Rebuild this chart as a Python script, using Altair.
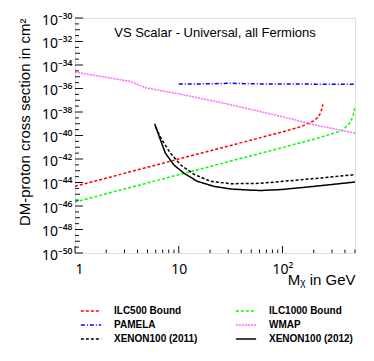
import altair as alt
import pandas as pd
import math

# ---- data (mass in GeV, cross section in cm^2) ----
series_names = ["ILC500 Bound", "ILC1000 Bound", "PAMELA", "WMAP",
                "XENON100 (2011)", "XENON100 (2012)"]

ilc500_m = [1, 10, 50, 100, 150, 180, 200, 220, 232, 240, 245]
ilc500_s = [4.7e-45, 1.0e-42, 4.1e-41, 2.0e-40, 5.6e-40, 1.12e-39, 1.78e-39,
            3.5e-39, 7.9e-39, 2.0e-38, 4.5e-38]

ilc1000_m = [1, 10, 100, 200, 300, 380, 440, 465, 480, 490, 497]
ilc1000_s = [2.2e-46, 4.6e-44, 9.5e-42, 4.8e-41, 1.4e-40, 2.8e-40, 1.05e-39,
             2.5e-39, 5.0e-39, 1.12e-38, 2.2e-38]

pamela_m = [10, 20, 30, 50, 100, 200, 500]
pamela_s = [2.4e-36, 2.5e-36, 2.8e-36, 2.5e-36, 2.4e-36, 2.35e-36, 2.35e-36]

wmap_m = [1, 2, 3.4, 4.9, 10, 25, 96, 200, 500]
wmap_s = [2.5e-35, 8.9e-36, 4.0e-36, 1.1e-36, 3.5e-37, 6.6e-38, 4.3e-39,
          8.3e-40, 1.6e-40]

xenon2011_m = [6.0, 6.8, 8.3, 10.4, 14, 20.3, 31.7, 60, 140, 500]
xenon2011_s = [5.0e-40, 5.0e-41, 3.2e-42, 3.2e-43, 5.0e-44, 1.26e-44, 7.9e-45,
               8.5e-45, 1.6e-44, 4.6e-44]

xenon2012_m = [5.86, 6.65, 7.43, 8.95, 11.2, 15.1, 21.8, 31.7, 50, 62, 96.5, 203, 500]
xenon2012_s = [1.0e-39, 4.4e-41, 3.2e-42, 3.2e-43, 6.3e-44, 1.26e-44, 4.7e-45,
               2.8e-45, 2.2e-45, 2.1e-45, 2.5e-45, 4.7e-45, 1.1e-44]

series_colors = ["#ff0000", "#00ff00", "#0000ff", "#ff66ff", "#000000", "#000000"]
series_dashes = [[3, 2], [3, 2], [4, 2, 1, 2], [2, 1], [3, 2], [1, 0]]

y_major_exponents = [-50, -48, -46, -44, -42, -40, -38, -36, -34, -32, -30]
y_odd_exponents = [-49, -47, -45, -43, -41, -39, -37, -35, -33, -31]
y_half_exponents = [-49.5, -48.5, -47.5, -46.5, -45.5, -44.5, -43.5, -42.5, -41.5,
                    -40.5, -39.5, -38.5, -37.5, -36.5, -35.5, -34.5, -33.5, -32.5,
                    -31.5, -30.5]
x_major_values = [1, 10, 100]
x_major_labels = ["1", "10", "10²"]
x_minor_values = [2, 3, 4, 5, 6, 7, 8, 9, 20, 30, 40, 50, 60, 70, 80, 90,
                  200, 300, 400, 500]

title_text = "VS Scalar - Universal, all Fermions"
y_title = "DM-proton cross section in cm²"
x_title = "Mᵪ in GeV"

# ---- build tables ----
rows = []
for name, ms, ss in zip(series_names,
                        [ilc500_m, ilc1000_m, pamela_m, wmap_m, xenon2011_m, xenon2012_m],
                        [ilc500_s, ilc1000_s, pamela_s, wmap_s, xenon2011_s, xenon2012_s]):
    for i, (m, s) in enumerate(zip(ms, ss)):
        rows.append({"series": name, "m": m, "s": s, "i": i})
df = pd.DataFrame(rows)

W, H = 280, 235
FONT = "Liberation Sans"
LFONT = "Noto Sans"

sup = str.maketrans("-0123456789", "⁻⁰¹²³⁴⁵⁶⁷⁸⁹")
exp_expr = "round(log(datum.value)/LN10)"
y_label_expr = ""
for e in y_major_exponents:
    y_label_expr += f"{exp_expr} == {e} ? '10{str(e).translate(sup)}' : "
y_label_expr += "''"
x_label_expr = ""
for v, lab in zip(x_major_values, x_major_labels):
    x_label_expr += f"{exp_expr} == {round(math.log10(v))} ? '{lab}' : "
x_label_expr += "''"

xscale = alt.Scale(type="log", domain=[1, 500], nice=False)
yscale = alt.Scale(type="log", domain=[1e-50, 1e-30], nice=False)

legend = alt.Legend(orient="none", legendX=8, legendY=285, columns=2, direction="horizontal",
                    symbolType="M-1.45,0H1.45", symbolSize=196, symbolStrokeWidth=1.5,
                    labelFont=FONT, labelFontWeight="bold", labelFontSize=10,
                    labelOffset=15, columnPadding=34, rowPadding=1, padding=0,
                    title=None)

lines = alt.Chart(df).mark_line(strokeWidth=1.5, clip=True).encode(
    x=alt.X("m:Q", scale=xscale,
            axis=alt.Axis(orient="bottom", values=x_major_values, labelExpr=x_label_expr,
                          ticks=False, tickSize=0, domain=False, grid=False,
                          labelFont=LFONT, labelFontSize=14, labelColor="#000",
                          labelPadding=9, labelBaseline="top",
                          title=x_title, titleFont=FONT, titleFontSize=15,
                          titleFontWeight="normal", titleColor="#000",
                          titleAnchor="end", titleAlign="right", titleBaseline="alphabetic",
                          titleX=W, titleY=31)),
    y=alt.Y("s:Q", scale=yscale,
            axis=alt.Axis(orient="left", values=[10.0 ** e for e in y_major_exponents],
                          labelExpr=y_label_expr, ticks=False, tickSize=0, domain=False,
                          grid=False, labelFont=LFONT, labelFontSize=14, labelColor="#000",
                          labelPadding=3, labelBaseline="middle", labelOffset=2,
                          title=y_title, titleFont=FONT, titleFontSize=15,
                          titleFontWeight="normal", titleColor="#000",
                          titleAngle=270, titleAlign="right", titleBaseline="alphabetic",
                          titleX=-46, titleY=0)),
    color=alt.Color("series:N", scale=alt.Scale(domain=series_names, range=series_colors),
                    legend=legend),
    strokeDash=alt.StrokeDash("series:N",
                              scale=alt.Scale(domain=series_names, range=series_dashes),
                              legend=legend),
    order="i:Q",
)

# inward axis ticks (ROOT style), drawn from the tick value lists
xt = pd.DataFrame({"v": x_major_values + x_minor_values,
                   "kind": ["major"] * len(x_major_values) + ["minor"] * len(x_minor_values)})
yt = pd.DataFrame({"v": [10.0 ** e for e in y_major_exponents + y_odd_exponents + y_half_exponents],
                   "kind": ["even"] * len(y_major_exponents) + ["odd"] * len(y_odd_exponents)
                           + ["half"] * len(y_half_exponents)})

def xticks(kind, length):
    return alt.Chart(xt).transform_filter(alt.datum.kind == kind).mark_rule(
        color="#111", strokeWidth=1).encode(
        x=alt.X("v:Q", scale=xscale, axis=None),
        y=alt.value(H), y2=alt.value(H - length))

def yticks(kind, length):
    return alt.Chart(yt).transform_filter(alt.datum.kind == kind).mark_rule(
        color="#111", strokeWidth=1).encode(
        y=alt.Y("v:Q", scale=yscale, axis=None),
        x=alt.value(0), x2=alt.value(length))

chart = alt.layer(
    lines,
    xticks("major", 7), xticks("minor", 3.5),
    yticks("even", 8), yticks("odd", 5), yticks("half", 4),
).resolve_axis(x="independent", y="independent").properties(
    width=W, height=H,
    title=alt.TitleParams(title_text, font=FONT, fontSize=13, fontWeight="normal",
                          color="#000", anchor="middle", frame="group",
                          baseline="alphabetic", offset=-14, dy=23),
    autosize=alt.AutoSizeParams(type="none"),
    padding={"left": 67, "top": 10, "right": 11, "bottom": 100},
).configure_view(stroke="#222", strokeWidth=1.2).configure(background="white")

chart.save("out.html", embed_options={"renderer": "svg", "actions": False})
